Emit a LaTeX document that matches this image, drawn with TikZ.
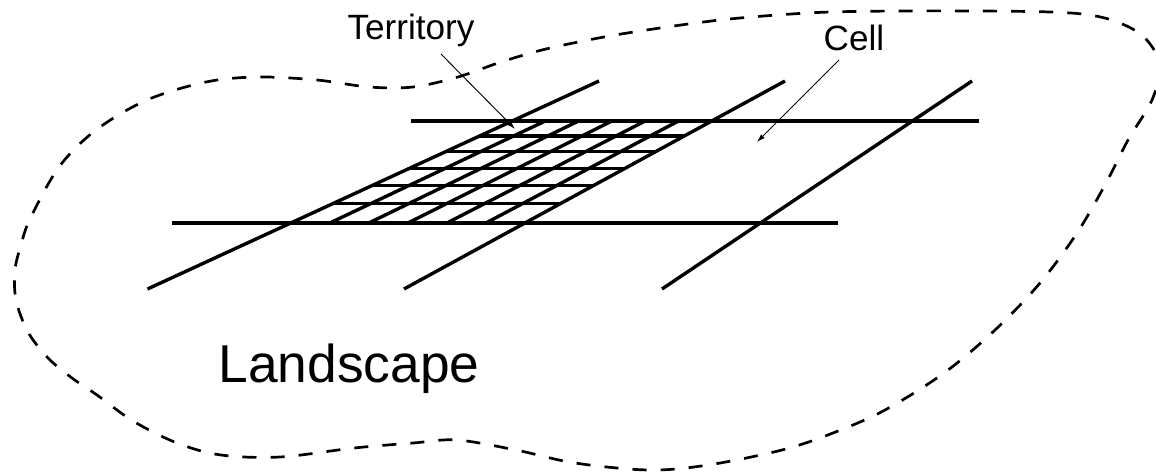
\documentclass[tikz,border=0pt]{standalone}
\usepackage{fontspec}
\setmainfont{Liberation Sans}
\usetikzlibrary{calc,arrows.meta}
\tikzset{
  road/.style={line width=2.9pt},
  border/.style={line width=2.3pt,dash pattern=on 12pt off 12pt},
  pointer/.style={->,line width=0.8pt},
  lbl/.style={inner sep=0pt,anchor=base,font=\fontsize{30pt}{35pt}\selectfont}
}
\begin{document}
\begin{tikzpicture}[>={Latex[length=7pt,width=4.5pt]},x=0.03cm,y=-0.03cm]
  \useasboundingbox (0,0) rectangle (1156,473);
  \draw[border] plot[smooth cycle,tension=0.55] coordinates {
    (258,77) (317,80) (369,87) (413,87) (458,77) (501,62) (546,49) (604,37)
    (660,28) (720,20) (777,15) (830,12) (900,11) (980,11) (1050,12) (1090,15)
    (1120,23) (1145,38) (1160,65) (1152,100) (1128,140) (1106,183) (1077,233)
    (1040,283) (995,330) (944,373) (885,410) (833,433) (782,450) (708,465)
    (649,470) (575,463) (516,450) (457,440) (413,443) (354,448) (280,457)
    (221,455) (177,443) (133,421) (97,395) (72,378) (48,358) (28,332)
    (16,300) (15,270) (21,245) (30,219) (59,167) (96,130) (147,100) (206,82)};
  % roads
  \draw[road] (411,121) -- (979,121);
  \draw[road] (172,223) -- (838,223);
  \draw[road] (147.5,289) -- (599,81);
  \draw[road] (404,289) -- (785,81);
  \draw[road] (662,289) -- (972,81);
  % territory cut into cells
  \coordinate (bl) at (290.7,223);
  \coordinate (br) at (525,223);
  \coordinate (tl) at (512,121);
  \coordinate (tr) at (711.7,121);
  \foreach \t in {0.189,0.366,0.536,0.699,0.853}
    \draw[road] ($(bl)!\t!(tl)$) -- ($(br)!\t!(tr)$);
  \foreach \k in {1,...,5}
    \draw[road] ($(bl)!\k/6!(br)$) -- ($(tl)!\k/6!(tr)$);
  % labels
  \node[lbl] (territory) at (411,39) {Territory};
  \node[lbl] (cell) at (854,50) {Cell};
  \node[lbl,font=\fontsize{45.5pt}{54pt}\selectfont] (landscape) at (349,382.7) {Landscape};
  \coordinate (territory tail) at (441,54);
  \coordinate (territory tip) at (515,129);
  \coordinate (cell tail) at (839,60);
  \coordinate (cell tip) at (757,142);
  \draw[pointer] (territory tail) -- (territory tip);
  \draw[pointer] (cell tail) -- (cell tip);
\end{tikzpicture}
\end{document}
